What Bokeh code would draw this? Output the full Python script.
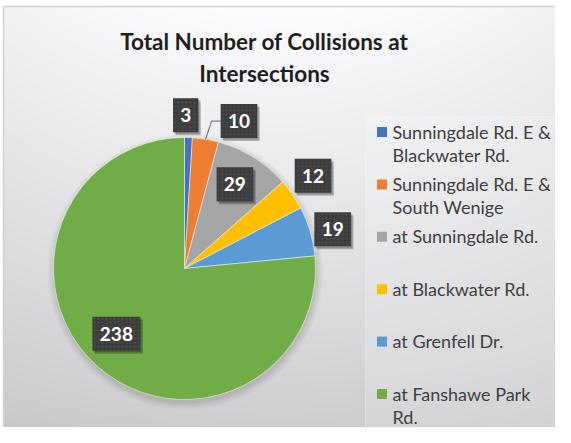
import numpy as np
from bokeh.plotting import figure
from bokeh.models import Range1d, ColumnDataSource
from bokeh.core.properties import value
from bokeh.embed import file_html
from bokeh.resources import INLINE

# ---------------- data ----------------
title_lines = ["Total Number of Collisions at", "Intersections"]
categories = [
    "Sunningdale Rd. E & Blackwater Rd.",
    "Sunningdale Rd. E & South Wenige",
    "at Sunningdale Rd.",
    "at Blackwater Rd.",
    "at Grenfell Dr.",
    "at Fanshawe Park Rd.",
]
legend_lines = [
    ["Sunningdale Rd. E &", "Blackwater Rd."],
    ["Sunningdale Rd. E &", "South Wenige"],
    ["at Sunningdale Rd."],
    ["at Blackwater Rd."],
    ["at Grenfell Dr."],
    ["at Fanshawe Park", "Rd."],
]
collisions = [3, 10, 29, 12, 19, 238]
colors = ["#4472C4", "#ED7D31", "#A5A5A5", "#FFC000", "#5B9BD5", "#70AD47"]

# ---------------- layout (pixel coords from the top-left, y flipped) ----------------
W, H = 555, 427
def Y(py):
    return H - py

cx, cy, R = 184, Y(268), 131
# label placement: radius factor and angle nudge (deg) per slice
lab_rf = [1.17, 1.20, 0.75, 1.21, 1.17, 0.72]
lab_nudge = [-1.3, 11.0, -1.0, -1.4, 1.7, 4.0]
leader = [False, True, False, False, False, False]

p = figure(width=W, height=H, x_range=Range1d(0, W), y_range=Range1d(0, H),
           output_backend="svg", toolbar_location=None, min_border=0)
p.axis.visible = False
p.grid.visible = False
p.outline_line_color = None
p.background_fill_color = None
p.border_fill_color = "white"

# ---------------- background gradient ----------------
rows, cols = 220, 140
yy = np.linspace(0, 1, rows)[:, None]          # 0 bottom .. 1 top
xx = np.linspace(0, 1, cols)[None, :]
base = 205 + 41 * yy ** 0.9
center = 1 - ((xx - 0.5) / 0.5) ** 2
shade = base + 6 * center * yy - 4 * (1 - center)
shade = np.clip(shade, 0, 255)
r = shade.astype(np.uint32)
g = shade.astype(np.uint32)
b = np.clip(shade + 2, 0, 255).astype(np.uint32)
img = ((255 << 24) | (b << 16) | (g << 8) | r).astype(np.uint32)
p.image_rgba(image=[img], x=3, y=0, dw=W - 3, dh=H - 6)
# chart border
p.line(x=[3, 3, W], y=[0, Y(6), Y(6)], line_color="#d0d0d0", line_width=1.5)

# legend panel
p.quad(left=365, right=553, bottom=Y(427), top=Y(116), fill_color="white",
       fill_alpha=0.18, line_color="white", line_alpha=0.25)

# ---------------- pie ----------------
vals = np.array(collisions, dtype=float)
total = vals.sum()
cum = np.concatenate([[0], np.cumsum(vals)])
start = np.pi / 2 - cum[:-1] / total * 2 * np.pi
end = np.pi / 2 - cum[1:] / total * 2 * np.pi
mid = (start + end) / 2

# soft shadow
for k, a in enumerate([0.05, 0.04, 0.03, 0.02]):
    p.circle(x=cx + 1, y=cy - 3, radius=R + 1 + 2 * k, fill_color="black",
             fill_alpha=a, line_color=None)

src = ColumnDataSource(dict(start=start, end=end, color=colors, cat=categories, val=collisions))
p.wedge(x=cx, y=cy, radius=R, start_angle="start", end_angle="end", direction="clock",
        fill_color="color", line_color="white", line_width=0.8, line_alpha=0.6, source=src)

# ---------------- data labels ----------------
lab_ang = mid + np.radians(-np.array(lab_nudge))
lx = cx + R * np.array(lab_rf) * np.cos(lab_ang)
ly = cy + R * np.array(lab_rf) * np.sin(lab_ang)
texts = [str(v) for v in collisions]
bw = np.array([14 + 11.3 * len(t) for t in texts])
bh = 34

# leader lines
for i in range(len(collisions)):
    if leader[i]:
        sx = cx + R * np.cos(mid[i])
        sy = cy + R * np.sin(mid[i])
        ex = lx[i] - bw[i] / 2
        p.line(x=[sx, ex - 9, ex], y=[sy, ly[i], ly[i]], line_color="#7f7f7f", line_width=1.2)

lsrc = ColumnDataSource(dict(x=lx, y=ly, w=bw, t=texts))
p.rect(x=lx + 2.5, y=ly - 3, width=bw, height=bh, fill_color="black", fill_alpha=0.25, line_color=None)
p.rect(x=lx + 1.2, y=ly - 1.5, width=bw, height=bh, fill_color="black", fill_alpha=0.2, line_color=None)
p.rect(x="x", y="y", width="w", height=bh, fill_color="#3d3d3d", line_color=None,
       hatch_pattern="dot", hatch_color="#5a5a5a", hatch_alpha=0.5, hatch_scale=4, source=lsrc)
p.text(x="x", y="y", text="t", text_align="center", text_baseline="middle",
       text_color="white", text_font=value("Lato"), text_font_style="bold",
       text_font_size="19px", source=lsrc)

# ---------------- title ----------------
p.text(x=[264, 264], y=[Y(41), Y(73)], text=title_lines, text_align="center",
       text_baseline="middle", text_color="#1f1f1f", text_font=value("Lato"),
       text_font_style="bold", text_font_size="22.5px")

# ---------------- legend ----------------
ent_y0, ent_step, line_step = 131, 52.4, 23.5
sq_x, tx_x = 381.5, 392
for i, lines in enumerate(legend_lines):
    ey = ent_y0 + i * ent_step
    p.rect(x=sq_x, y=Y(ey + 0.5), width=10, height=10, fill_color=colors[i], line_color=None)
    p.text(x=[tx_x] * len(lines), y=[Y(ey + j * line_step) for j in range(len(lines))],
           text=lines, text_align="left", text_baseline="middle", text_color="#404040",
           text_font=value("Lato"), text_font_size="18px")

open("out.html", "w").write(file_html(p, INLINE))
